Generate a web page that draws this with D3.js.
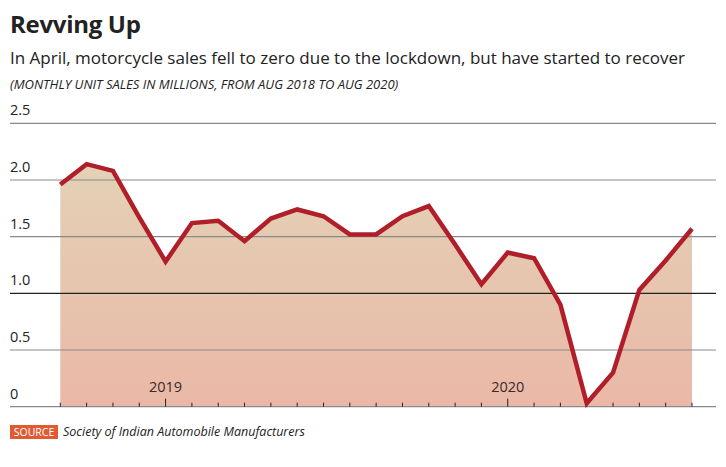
<!DOCTYPE html>
<meta charset="utf-8">
<title>Revving Up</title>
<script src="https://d3js.org/d3.v7.min.js"></script>
<style>
  body { margin: 0; background: #fff; font-family: "Open Sans", sans-serif; }
</style>
<div id="chart"></div>
<script>
  // Monthly motorcycle sales in millions, Aug 2018 .. Aug 2020
  var months = ["Aug 18","Sep 18","Oct 18","Nov 18","Dec 18","Jan 19","Feb 19","Mar 19","Apr 19",
                "May 19","Jun 19","Jul 19","Aug 19","Sep 19","Oct 19","Nov 19","Dec 19","Jan 20",
                "Feb 20","Mar 20","Apr 20","May 20","Jun 20","Jul 20","Aug 20"];
  var sales = [1.96, 2.14, 2.08, 1.67, 1.28, 1.62, 1.64, 1.46, 1.66, 1.74, 1.68, 1.52, 1.52,
               1.68, 1.77, 1.43, 1.08, 1.36, 1.31, 0.90, 0.03, 0.30, 1.03, 1.29, 1.57];
  var yTicks = [0, 0.5, 1.0, 1.5, 2.0, 2.5];
  var yTickLabels = ["0", "0.5", "1.0", "1.5", "2.0", "2.5"];
  var yearLabels = [{label: "2019", month: "Dec 18"}, {label: "2020", month: "Jan 20"}];

  var W = 726, H = 467;
  var svg = d3.select("#chart").append("svg")
      .attr("width", W).attr("height", H);

  // titles
  svg.append("text")
    .attr("x", 10).attr("y", 33)
    .style("font-size", "24px").style("font-weight", "bold")
    .style("fill", "#222").style("letter-spacing", "-0.3px")
    .text("Revving Up");
  svg.append("text")
    .attr("x", 10).attr("y", 64)
    .style("font-size", "17px").style("fill", "#222")
    .text("In April, motorcycle sales fell to zero due to the lockdown, but have started to recover");
  svg.append("text")
    .attr("x", 10).attr("y", 89)
    .style("font-size", "13px").style("font-style", "italic").style("fill", "#222")
    .text("(MONTHLY UNIT SALES IN MILLIONS, FROM AUG 2018 TO AUG 2020)");

  var x = d3.scalePoint().domain(months).range([60.3, 692]);
  var y = d3.scaleLinear().domain([0, 2.5]).range([406.7, 123.3]);

  // gradient for area
  var grad = svg.append("defs").append("linearGradient")
    .attr("id", "fillGrad").attr("x1", 0).attr("x2", 0)
    .attr("gradientUnits", "userSpaceOnUse")
    .attr("y1", y(2.2)).attr("y2", y(0));
  grad.append("stop").attr("offset", "0%").attr("stop-color", "#e3d2b7");
  grad.append("stop").attr("offset", "100%").attr("stop-color", "#eab8a6");

  var area = d3.area()
    .x(function(d, i) { return x(months[i]); })
    .y0(y(0))
    .y1(function(d) { return y(d); });

  svg.append("path")
    .datum(sales)
    .attr("d", area)
    .attr("fill", "url(#fillGrad)");

  // gridlines
  svg.append("g")
    .selectAll("line")
    .data(yTicks)
    .enter().append("line")
    .attr("x1", 10).attr("x2", 716)
    .attr("y1", function(d) { return y(d); })
    .attr("y2", function(d) { return y(d); })
    .attr("stroke", function(d) { return d == 1.0 ? "#222" : "#8a8a8a"; })
    .attr("stroke-width", 1.2);

  // y labels
  svg.append("g")
    .selectAll("text")
    .data(yTicks)
    .enter().append("text")
    .attr("x", 10)
    .attr("y", function(d) { return y(d) - 8; })
    .style("font-size", "14.5px").style("fill", "#222")
    .text(function(d, i) { return yTickLabels[i]; });

  // month ticks
  var majors = yearLabels.map(function(d) { return d.month; });
  svg.append("g")
    .selectAll("line")
    .data(months)
    .enter().append("line")
    .attr("x1", function(d) { return x(d); })
    .attr("x2", function(d) { return x(d); })
    .attr("y1", y(0))
    .attr("y2", function(d) { return majors.indexOf(d) >= 0 ? y(0) - 8 : y(0) - 4; })
    .attr("stroke", "#222").attr("stroke-width", 1);

  // year labels
  svg.append("g")
    .selectAll("text")
    .data(yearLabels)
    .enter().append("text")
    .attr("x", function(d) { return x(d.month); })
    .attr("y", 392)
    .attr("text-anchor", "middle")
    .style("font-size", "14.5px").style("fill", "#3a2a2a")
    .text(function(d) { return d.label; });

  // line
  var line = d3.line()
    .x(function(d, i) { return x(months[i]); })
    .y(function(d) { return y(d); });

  svg.append("path")
    .datum(sales)
    .attr("d", line)
    .attr("fill", "none")
    .attr("stroke", "#b01f29")
    .attr("stroke-width", 4.5)
    .attr("stroke-linejoin", "miter");

  // source
  svg.append("rect")
    .attr("x", 10).attr("y", 425).attr("width", 48).attr("height", 14)
    .attr("fill", "#e05a34");
  svg.append("text")
    .attr("x", 34).attr("y", 436)
    .attr("text-anchor", "middle")
    .style("font-size", "10.5px").style("fill", "#fff")
    .text("SOURCE");
  svg.append("text")
    .attr("x", 63).attr("y", 436)
    .style("font-size", "12.5px").style("font-style", "italic").style("fill", "#222")
    .text("Society of Indian Automobile Manufacturers");
</script>
